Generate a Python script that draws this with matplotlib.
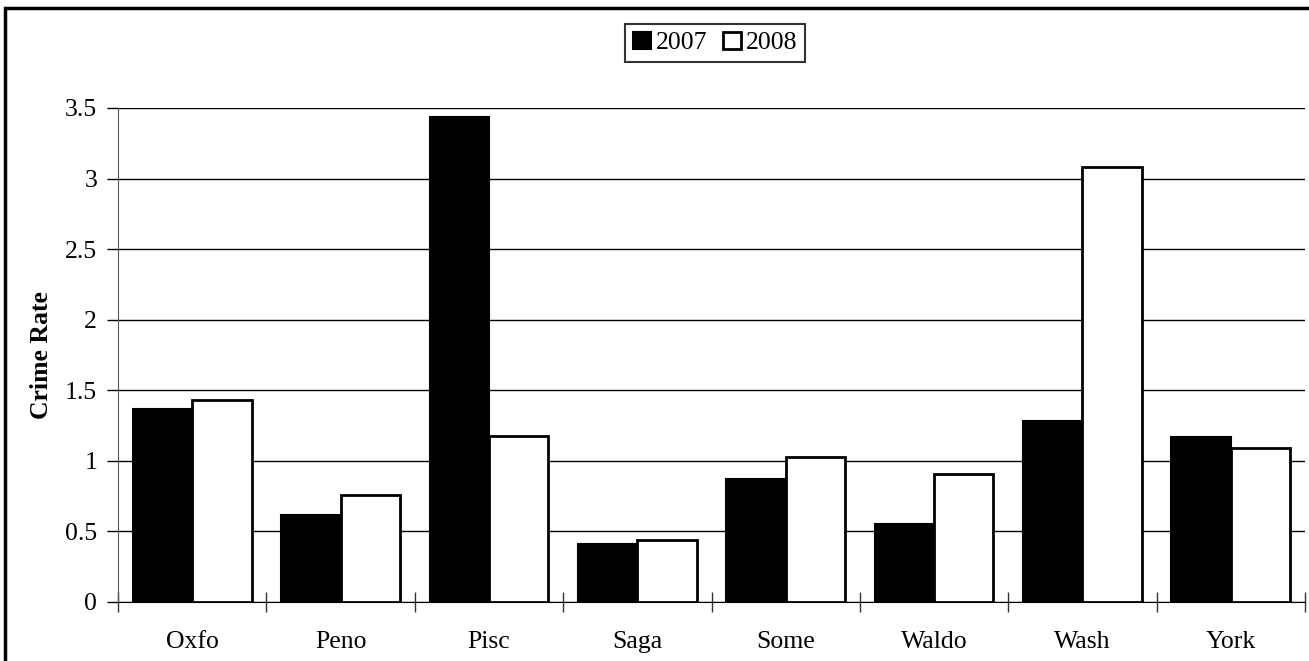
import matplotlib.pyplot as plt
import matplotlib.patches as mpatches
import numpy as np

# данные с графика
counties = ['Oxfo', 'Peno', 'Pisc', 'Saga', 'Some', 'Waldo', 'Wash', 'York']
rate_2007 = [1.37, 0.615, 3.435, 0.41, 0.87, 0.55, 1.28, 1.17]
rate_2008 = [1.43, 0.76, 1.175, 0.44, 1.03, 0.91, 3.08, 1.09]
y_ticks = [0, 0.5, 1, 1.5, 2, 2.5, 3, 3.5]

plt.rcParams['font.family'] = ['Liberation Serif', 'DejaVu Serif']
FS = 18.5

W, H = 1309, 661
fig = plt.figure(figsize=(W / 100, H / 100), dpi=100)
ax = fig.add_axes([118 / W, 1 - 602 / H, (1305 - 118) / W, (602 - 108) / H])

x = np.arange(len(counties))
width = 0.4
ax.bar(x - width / 2, rate_2007, width, color='black', edgecolor='black',
       linewidth=1.5, label='2007', zorder=3)
ax.bar(x + width / 2, rate_2008, width, color='white', edgecolor='black',
       linewidth=2, label='2008', zorder=3)

ax.set_xlim(-0.5, len(counties) - 0.5)
ax.set_ylim(0, 3.5)
ax.set_yticks(y_ticks)
ax.set_yticklabels([f'{t:g}' for t in y_ticks], fontsize=FS)
ax.yaxis.grid(True, color='black', linewidth=1)
ax.set_axisbelow(True)

# подписи категорий без засечек, засечки на границах групп
ax.set_xticks(x)
ax.set_xticklabels(counties, fontsize=FS)
ax.tick_params(axis='x', length=0, pad=21)
ax.set_xticks(np.arange(len(counties) + 1) - 0.5, minor=True)
ax.tick_params(axis='x', which='minor', direction='inout', length=14, width=1, color='#333333')
ax.tick_params(axis='y', direction='out', length=8, width=1, pad=7)

for side in ['top', 'right']:
    ax.spines[side].set_visible(False)
ax.spines['left'].set_color('#555555')
ax.spines['bottom'].set_color('black')

ax.set_ylabel('Crime Rate', fontsize=FS, fontweight='bold', labelpad=9)

leg = ax.legend(loc='center', bbox_to_anchor=((715 - 118) / (1305 - 118), (602 - 43) / (602 - 108)),
                ncol=2, fontsize=FS, frameon=True, fancybox=False, edgecolor='black',
                handlelength=0.7, handleheight=0.7, handletextpad=0.2, columnspacing=0.6,
                borderpad=0.3, borderaxespad=0)
leg.get_frame().set_linewidth(1.5)

# рамка вокруг всего рисунка (обрезана справа и снизу)
border = mpatches.Rectangle((5 / W, -0.1), 1.2, 1 - 8 / H + 0.1, transform=fig.transFigure,
                            fill=False, edgecolor='black', linewidth=2.5, clip_on=False)
fig.patches.append(border)

fig.savefig('out.png', dpi=100)
